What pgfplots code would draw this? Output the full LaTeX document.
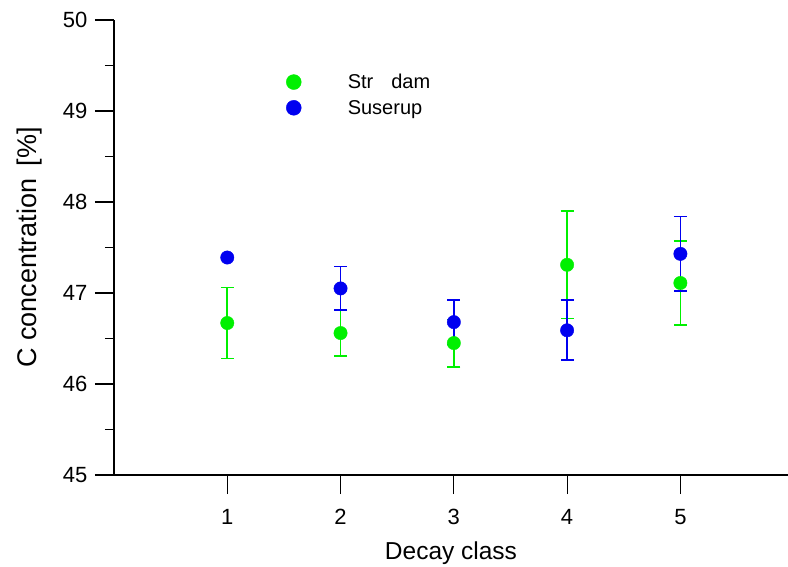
\documentclass[border=0pt]{standalone}
\usepackage{fontspec}
\setmainfont{Liberation Sans}
\usepackage{pgfplots}
\pgfplotsset{compat=1.18}
\definecolor{sgreen}{RGB}{0,240,0}
\definecolor{sblue}{RGB}{0,0,240}
\begin{document}
\begin{tikzpicture}
\begin{axis}[
  scale only axis, width=674pt, height=455pt,
  xmin=0, xmax=5.95, ymin=45, ymax=50,
  axis x line*=bottom, axis y line*=left,
  axis line style={line width=1.2pt,-},
  xtick={1,2,3,4,5}, ytick={45,46,47,48,49,50},
  minor y tick num=1, minor x tick num=0,
  tick align=outside, major tick length=19pt, minor tick length=9pt,
  every tick/.style={line width=1.2pt, black},
  /pgf/number format/assume math mode=true,
  ticklabel style={font=\fontsize{22}{25}\selectfont},
  xticklabel style={yshift=-12pt},
  yticklabel style={xshift=-4pt},
  xlabel style={font=\fontsize{24.5}{28}\selectfont, yshift=-10pt},
  ylabel style={font=\fontsize{27}{30}\selectfont, yshift=14pt},
  xlabel={Decay class}, ylabel={C concentration\hspace{0.45em}[\%]},
  legend cell align=left,
  legend style={draw=none, fill=none, at={(rel axis cs:0.255,0.886)}, anchor=north west,
    font=\fontsize{20}{24}\selectfont, row sep=6pt, inner sep=0pt},
  legend image code/.code={\path[draw=none,fill=none] (-7.5pt,0pt) -- (52pt,0pt);
    \fill (0pt,0pt) circle (7.5pt);},
]
\addplot+[only marks, sgreen, mark=*, mark size=6.7pt, mark options={fill=sgreen, draw=sgreen},
  error bars/.cd, y dir=both, y explicit,
  error bar style={line width=1.7pt, sgreen},
  error mark options={rotate=90, mark size=6.5pt, line width=1.7pt, sgreen}]
  coordinates {
  (1,46.67) +- (0,0.39)
  (2,46.56) +- (0,0.25)
  (3,46.45) +- (0,0.26)
  (4,47.31) +- (0,0.59)
  (5,47.11) +- (0,0.46)
  };
\addlegendentry{Str\hspace{0.9em}dam}
\addplot+[only marks, sblue, mark=*, mark size=6.7pt, mark options={fill=sblue, draw=sblue},
  error bars/.cd, y dir=both, y explicit,
  error bar style={line width=1.7pt, sblue},
  error mark options={rotate=90, mark size=6.5pt, line width=1.7pt, sblue}]
  coordinates {
  (1,47.39) +- (0,0)
  (2,47.05) +- (0,0.24)
  (3,46.68) +- (0,0.245)
  (4,46.59) +- (0,0.33)
  (5,47.43) +- (0,0.41)
  };
\addlegendentry{Suserup}
\end{axis}
\pgfresetboundingbox
\path[use as bounding box] (-114pt,-91pt) rectangle (674pt,475pt);
\end{tikzpicture}
\end{document}
